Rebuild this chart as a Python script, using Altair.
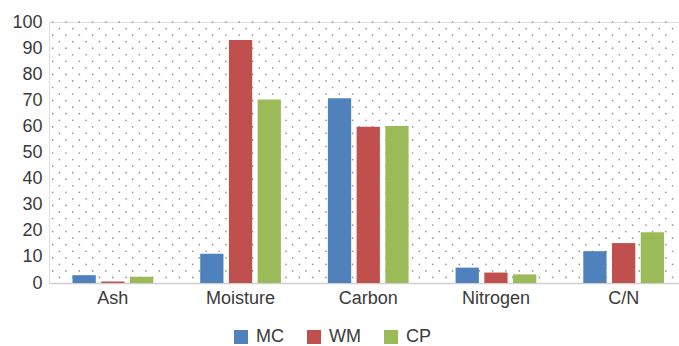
import altair as alt
import pandas as pd

# Composition of the three materials
categories = ["Ash", "Moisture", "Carbon", "Nitrogen", "C/N"]
series = ["MC", "WM", "CP"]
mc_values = [3.0, 11.2, 70.8, 5.9, 12.2]
wm_values = [0.6, 93.1, 59.9, 4.0, 15.3]
cp_values = [2.4, 70.3, 60.2, 3.3, 19.4]
colors = ["#4F81BD", "#C0504D", "#9BBB59"]
y_ticks = list(range(0, 101, 10))

rows = []
for name, vals in zip(series, [mc_values, wm_values, cp_values]):
    for cat, v in zip(categories, vals):
        rows.append({"category": cat, "series": name, "value": v})
df = pd.DataFrame(rows)

W, H = 630, 261
FONT = "Liberation Sans"
FS = 18

# staggered dot texture for the plot background (pixel units)
dot_rows = []
dy, dx = 6.55, 13.33
r = 0
while r * dy <= H + 0.5:
    x = 3.7 if r % 2 == 0 else 10.4
    while x < W:
        dot_rows.append({"px": x, "py": r * dy})
        x += dx
    r += 1
dots_df = pd.DataFrame(dot_rows)

dots = alt.Chart(dots_df).mark_circle(size=3, color="#939393", opacity=1).encode(
    x=alt.X("px:Q", scale=None, axis=None),
    y=alt.Y("py:Q", scale=None, axis=None),
)

bars = alt.Chart(df).mark_bar().encode(
    x=alt.X(
        "category:N",
        sort=categories,
        scale=alt.Scale(range=[0, 638.5], paddingInner=0.368, paddingOuter=0.184),
        axis=alt.Axis(
            title=None, labelAngle=0, ticks=False, grid=False,
            domainColor="#d0d0d0", domainWidth=1.5,
            labelFontSize=FS, labelColor="#3a3a3a", labelFont=FONT, labelPadding=6,
        ),
    ),
    xOffset=alt.XOffset("series:N", sort=series, scale=alt.Scale(paddingInner=0.19)),
    y=alt.Y(
        "value:Q",
        scale=alt.Scale(domain=[0, 100], nice=False),
        axis=alt.Axis(
            title=None, values=y_ticks, grid=False, domain=False, ticks=False,
            labelFontSize=FS, labelColor="#3a3a3a", labelFont=FONT, labelPadding=7,
        ),
    ),
    color=alt.Color(
        "series:N",
        sort=series,
        scale=alt.Scale(domain=series, range=colors),
        legend=alt.Legend(
            title=None, orient="none", legendX=183, legendY=306,
            direction="horizontal", symbolType="square", symbolSize=196,
            symbolStrokeWidth=0, symbolOpacity=1, labelFontSize=FS, labelFont=FONT,
            labelColor="#3a3a3a", columnPadding=21, labelOffset=6, padding=0,
        ),
    ),
)

chart = (
    alt.layer(dots, bars)
    .resolve_scale(x="independent", y="independent")
    .properties(
        width=W,
        height=H,
        autosize="none",
        padding={"left": 49, "top": 22, "right": 0, "bottom": 63},
    )
    .configure_view(stroke=None, fill="#fcfcfc")
    .configure(font=FONT, background="white")
)

chart.save("out.html", embed_options={"renderer": "svg", "actions": False})
